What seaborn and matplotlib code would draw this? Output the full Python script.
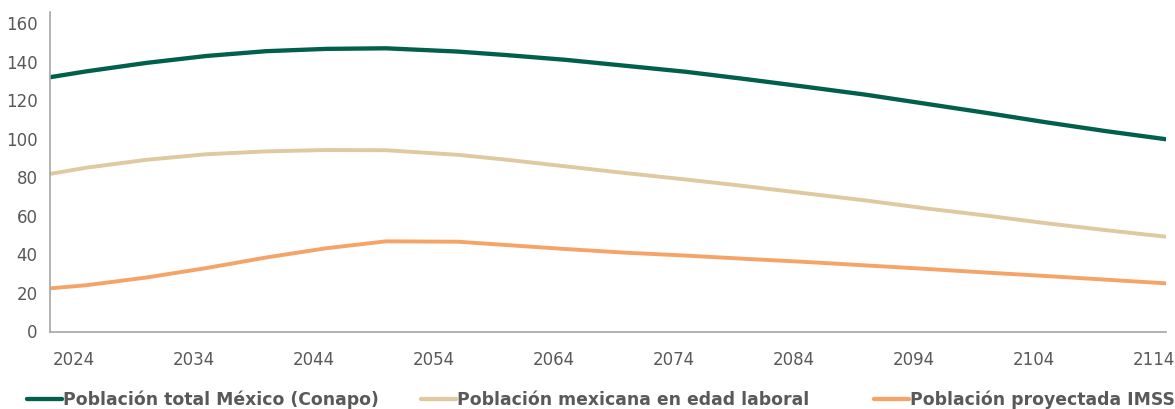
import numpy as np
import pandas as pd
import matplotlib
matplotlib.use("Agg")
import matplotlib.pyplot as plt
import seaborn as sns

# ---- data (millions of people) ----
years = [2022, 2025, 2030, 2035, 2040, 2045, 2050, 2056, 2060, 2065, 2070,
         2075, 2080, 2085, 2090, 2095, 2100, 2105, 2110, 2115]
total_conapo = [132.0, 135.0, 139.4, 143.0, 145.5, 146.7, 147.0, 145.3, 143.5, 141.0, 137.9,
                134.8, 131.0, 127.0, 122.9, 118.2, 113.5, 108.6, 104.0, 99.8]
edad_laboral = [81.8, 85.0, 89.1, 92.0, 93.5, 94.2, 94.1, 91.7, 89.2, 85.7, 82.2,
                78.9, 75.4, 71.7, 68.0, 63.9, 60.2, 56.2, 52.6, 49.2]
proyectada_imss = [22.4, 24.0, 28.0, 32.9, 38.4, 43.2, 46.8, 46.6, 44.9, 42.8, 40.9,
                   39.4, 37.7, 36.1, 34.3, 32.5, 30.6, 28.8, 26.9, 25.0]

series_names = ["Población total México (Conapo)",
                "Población mexicana en edad laboral",
                "Población proyectada IMSS"]
colors = ["#00604B", "#DEC9A0", "#F5A467"]

x_ticks = list(range(2024, 2115, 10))
y_ticks = list(range(0, 161, 20))

df = pd.concat([
    pd.DataFrame({"year": years, "value": vals, "serie": name})
    for name, vals in zip(series_names, [total_conapo, edad_laboral, proyectada_imss])
])

sns.set_theme(style="white")
plt.rcParams["font.family"] = ["DejaVu Sans"]

fig = plt.figure(figsize=(11.75, 4.09), dpi=100)
ax = fig.add_axes([50 / 1175, 1 - 331.5 / 409, 1116 / 1175, (331.5 - 11.7) / 409])

sns.lineplot(data=df, x="year", y="value", hue="serie", hue_order=series_names,
             palette=colors, linewidth=2.8, ax=ax, legend=False)
for ln in ax.lines:
    ln.set_solid_capstyle("round")
    ln.set_solid_joinstyle("round")
ax.lines[0].set_linewidth(3.1)

ax.set_xlim(2022, 2115)
ax.set_ylim(0, 166)
ax.set_xticks(x_ticks)
ax.set_yticks(y_ticks)
ax.set_xlabel("")
ax.set_ylabel("")
ax.tick_params(axis="both", length=0, labelsize=12, labelcolor="#595959")
ax.tick_params(axis="x", pad=14)
ax.tick_params(axis="y", pad=9)

for s in ["top", "right"]:
    ax.spines[s].set_visible(False)
for s in ["left", "bottom"]:
    ax.spines[s].set_color("#A6A6A6")
    ax.spines[s].set_linewidth(1.2)

# legend entries placed individually along the bottom, as in the reference
legend_x = [27 / 1175, 421 / 1175, 874 / 1175]
for name, c, lx in zip(series_names, colors, legend_x):
    h = plt.Line2D([], [], color=c, lw=3.1, solid_capstyle="round")
    leg = fig.legend([h], [name], loc="center left",
                     bbox_to_anchor=(lx, 1 - 400 / 409), frameon=False,
                     handlelength=2.05, handletextpad=0.05,
                     prop={"size": 12.4, "weight": "bold"},
                     borderaxespad=0, borderpad=0)
    for t in leg.get_texts():
        t.set_color("#595959")

fig.savefig("out.png", dpi=100)
